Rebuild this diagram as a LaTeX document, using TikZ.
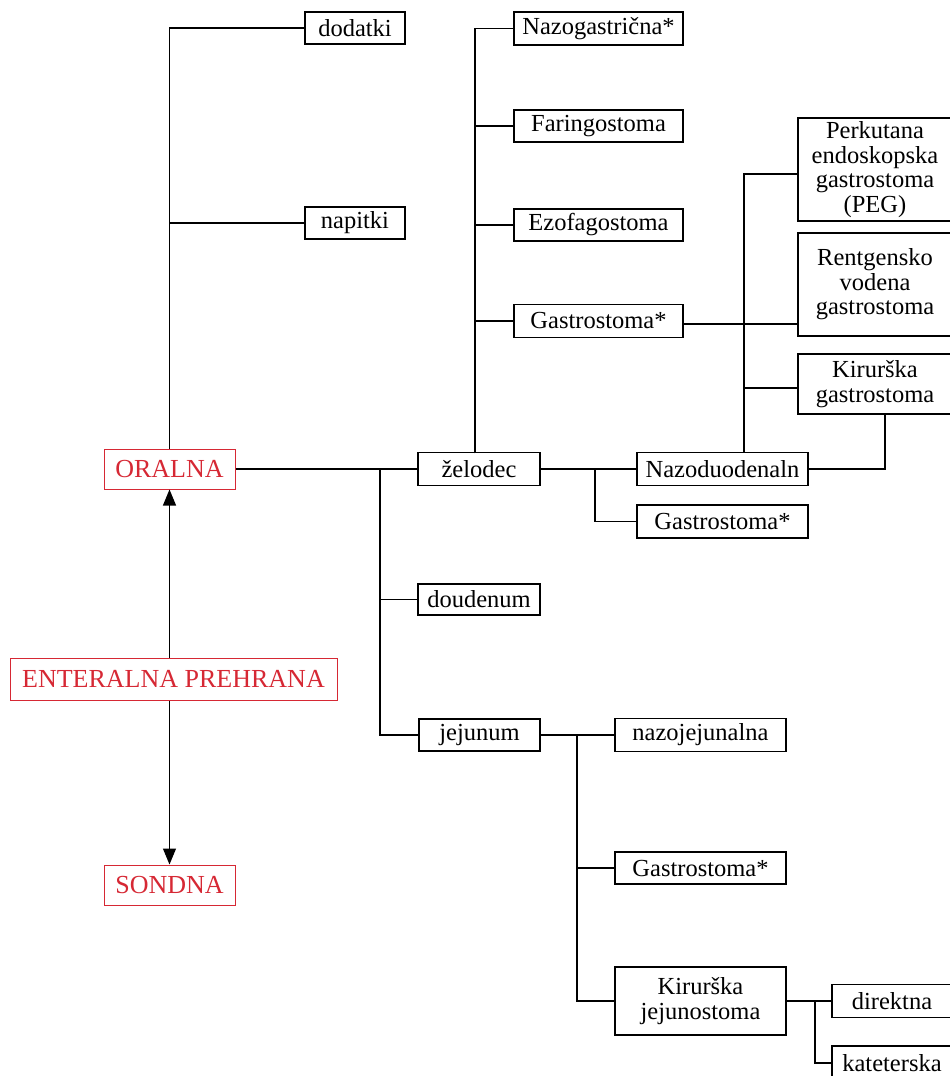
\documentclass[tikz,border=0pt]{standalone}
\usepackage{fontspec}
\setmainfont{Liberation Serif}
\usetikzlibrary{arrows.meta,calc}
\definecolor{enred}{RGB}{214,40,52}
\tikzset{
  box/.style={draw, line width=1.1pt, inner sep=0pt, align=center,
    font=\fontsize{24.5}{24.5}\selectfont},
  redbox/.style={box, draw=enred, text=enred, line width=1pt,
    font=\fontsize{26}{28}\selectfont},
  link/.style={line width=1.1pt},
  arrowlink/.style={line width=1.1pt, -{Triangle[width=13pt,length=16pt]}}
}
\begin{document}
\begin{tikzpicture}[x=1pt,y=-1pt]
\useasboundingbox (0,0) rectangle (950,1076);

% root and the two main branches
\node[redbox, minimum width=131, minimum height=40] (ora) at (169.5,469) {ORALNA};
\node[redbox, minimum width=327, minimum height=42] (ent) at (173.5,679) {ENTERALNA PREHRANA};
\node[redbox, minimum width=131, minimum height=40] (son) at (169.5,885) {SONDNA};

% oral feeding
\node[box, minimum width=100, minimum height=32] (dod) at (355,28) {dodatki};
\node[box, minimum width=100, minimum height=32] (nap) at (355,223) {napitki};

% feeding sites
\node[box, minimum width=122, minimum height=33] (zel) at (479,469) {želodec};
\node[box, minimum width=122, minimum height=31] (dou) at (479,599.5) {doudenum};
\node[box, minimum width=121, minimum height=32] (jej) at (479.5,735) {jejunum};

% stomach access
\node[box, minimum width=169, minimum height=33] (nzg) at (598.5,28.5) {Nazogastrična*};
\node[box, minimum width=169, minimum height=32] (far) at (598.5,126) {Faringostoma};
\node[box, minimum width=169, minimum height=32] (ezo) at (598.5,225) {Ezofagostoma};
\node[box, minimum width=169, minimum height=33] (gasa) at (598.5,321) {Gastrostoma*};

\node[box, minimum width=154, minimum height=103] (peg) at (875,169.5) {Perkutana\\endoskopska\\gastrostoma\\(PEG)};
\node[box, minimum width=154, minimum height=103] (ren) at (875,284.5) {Rentgensko\\vodena\\gastrostoma};
\node[box, minimum width=154, minimum height=60] (kgs) at (875,384) {Kirurška\\gastrostoma};

\node[box, minimum width=171, minimum height=33] (nzd) at (722.5,469) {Nazoduodenaln};
\node[box, minimum width=171, minimum height=33] (gasb) at (722.5,521.5) {Gastrostoma*};

% jejunal access
\node[box, minimum width=171, minimum height=33] (nzj) at (700.5,735) {nazojejunalna};
\node[box, minimum width=171, minimum height=32] (gasc) at (700.5,868) {Gastrostoma*};
\node[box, minimum width=171, minimum height=68] (kjej) at (700.5,1001) {Kirurška\\jejunostoma};
\node[box, minimum width=120, minimum height=33] (dir) at (892,1001) {direktna};
\node[box, minimum width=120, minimum height=34] (kat) at (892,1063) {kateterska};

% branch points
\coordinate (b1) at (380,469);
\coordinate (zt) at (475,453);
\coordinate (nt) at (744,452);
\coordinate (b2) at (595,469);
\coordinate (b3) at (577,735);
\coordinate (b4) at (815,1001);

% arrows from the root
\draw[arrowlink] (ent.north -| ora.south) -- (ora.south);
\draw[arrowlink] (ent.south -| son.north) -- (son.north);

% oral tree
\draw[link] (ora.north) |- (dod.west);
\draw[link] (ora.north) |- (nap.west);

% tube tree
\draw[link] (ora.east) -- (zel.west);
\draw[link] (b1) |- (dou.west);
\draw[link] (b1) |- (jej.west);

\draw[link] (zt) |- (nzg.west);
\draw[link] (zt) |- (far.west);
\draw[link] (zt) |- (ezo.west);
\draw[link] (zt) |- (gasa.west);

\draw[link] ([yshift=-3pt]gasa.east) -- ([yshift=-3pt]gasa.east -| ren.west);
\draw[link] (nt) |- ([yshift=-4.5pt]peg.west);
\draw[link] (nt) |- ([yshift=-4pt]kgs.west);
\draw[link] (nzd.east) -| ([xshift=10pt]kgs.south);

\draw[link] (zel.east) -- (nzd.west);
\draw[link] (b2) |- (gasb.west);

\draw[link] (jej.east) -- (nzj.west);
\draw[link] (b3) |- (gasc.west);
\draw[link] (b3) |- (kjej.west);

\draw[link] (kjej.east) -- (dir.west);
\draw[link] (b4) |- (kat.west);
\end{tikzpicture}
\end{document}
